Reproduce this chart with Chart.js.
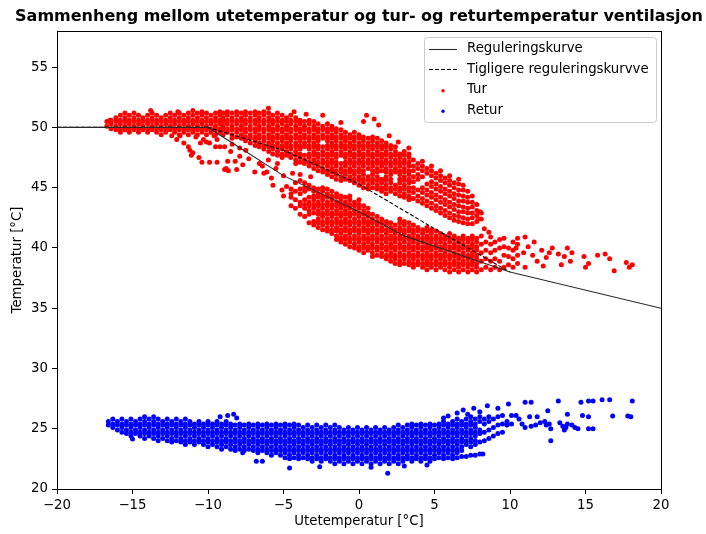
<!DOCTYPE html>
<html>
<head>
<meta charset="utf-8">
<script src="https://cdn.jsdelivr.net/npm/chart.js@4.4.1/dist/chart.umd.min.js"></script>
<style>
  html, body { margin: 0; padding: 0; background: #fff; }
  canvas { display: block; }
</style>
</head>
<body>
<canvas id="chart" width="706" height="534"></canvas>
<script>
// --- axes ---
const xTicks = [-20, -15, -10, -5, 0, 5, 10, 15, 20];
const yTicks = [20, 25, 30, 35, 40, 45, 50, 55];

// --- regulation curves (breakpoints) ---
const regX = [-20, -10, -5, 0, 3, 10, 20];
const regY = [50, 50, 46, 43, 41, 38, 35];
const oldRegX = [-20, -10, -5, 0, 5, 10];
const oldRegY = [50, 50, 48.1, 45.3, 41.6, 38];

// --- Tur (supply) readings, grouped as [x, [y, y, ...]] ---
const turFlat = [
  [-16.7,[50.1,50.5]],[-16.42,[49.9,50.3,50.6]],[-16.1,[49.8,50.1,50.5,50.8]],
  [-15.8,[49.6,49.9,50.3,50.6,51.0]],[-15.5,[49.8,50.1,50.5,50.8]],[-15.21,[49.6,49.9,50.3,50.6,51.0]],
  [-14.9,[49.8,50.1,50.5,50.8,51.2]],[-14.6,[49.6,49.9,50.3,50.6,51.0]],[-14.31,[49.8,50.1,50.5,50.8]],
  [-14.0,[49.6,49.9,50.3,50.6,51.0]],[-13.7,[49.8,50.1,50.5,50.8,51.2]],[-13.4,[49.6,49.9,50.3,50.6,51.0]],
  [-13.1,[49.4,49.8,50.1,50.5,50.8]],[-12.8,[49.6,49.9,50.3,50.6,51.0]],[-12.5,[49.8,50.1,50.5,50.8,51.2]],
  [-12.21,[49.6,49.9,50.3,50.6,51.0]],[-11.9,[49.4,49.8,50.1,50.5,50.8,51.2]],[-11.6,[49.6,49.9,50.3,50.6,51.0]],
  [-11.3,[49.4,49.8,50.1,50.5,50.8,51.2]],[-11.0,[49.6,49.9,50.3,50.6,51.0]],[-10.7,[49.4,49.8,50.1,50.5,50.8,51.2]],
  [-10.4,[49.6,49.9,50.3,50.6,51.0,51.3]],[-10.1,[49.4,49.8,50.1,50.5,50.8,51.2]],[-9.8,[49.6,49.9,50.3,50.6,51.0]],
  [-9.5,[49.4,49.8,50.1,50.5,50.8,51.2]],[-9.21,[49.6,49.9,50.3,50.6,51.0,51.3]]
];

const turUpper = [
  [-9.0,[49.4,49.8,50.1,50.5,50.8,51.2]],[-8.72,[49.6,49.9,50.3,50.6,51.0,51.3]],
  [-8.41,[49.1,49.4,49.8,50.1,50.5,50.8,51.2]],[-8.1,[49.2,49.6,49.9,50.3,50.6,51.0,51.3]],
  [-7.79,[49.1,49.4,49.8,50.1,50.5,50.8,51.2]],[-7.52,[48.9,49.2,49.6,49.9,50.3,50.6,51.0,51.3]],
  [-7.2,[48.7,49.1,49.4,49.8,50.1,50.5,50.8,51.2]],[-6.88,[48.5,48.9,49.2,49.6,49.9,50.3,50.6,51.0,51.3]],
  [-6.61,[48.4,48.7,49.1,49.4,49.8,50.1,50.5,50.8,51.2]],[-6.3,[48.2,48.5,48.9,49.2,49.6,49.9,50.3,50.6,51.0,51.3]],
  [-5.98,[48.0,48.4,48.7,49.1,49.4,49.8,50.1,50.5,50.8,51.2]],[-5.71,[47.8,48.2,48.5,48.9,49.2,49.6,49.9,50.3,50.6,51.0]],
  [-5.4,[47.7,48.0,48.4,48.7,49.1,49.4,49.8,50.1,50.5,50.8,51.2]],[-5.09,[47.5,47.8,48.2,48.5,48.9,49.2,49.6,49.9,50.3,50.6,51.0]],
  [-4.8,[47.7,48.0,48.4,48.7,49.1,49.4,49.8,50.1,50.5,50.8]],[-4.52,[47.5,47.8,48.2,48.5,48.9,49.2,49.6,49.9,50.3,50.6,51.0]],
  [-4.19,[47.0,47.3,47.7,48.0,48.4,48.7,49.1,49.4,49.8,50.1,50.5,50.8]],[-3.9,[47.1,47.5,47.8,48.2,48.5,48.9,49.2,49.6,49.9,50.3,50.6]],
  [-3.61,[47.0,47.3,47.7,48.4,48.7,49.1,49.4,49.8,50.1,50.5]],[-3.3,[46.8,47.1,47.5,47.8,48.2,48.5,48.9,49.2,49.6,49.9,50.3,50.6]],
  [-2.99,[46.6,47.0,47.3,47.7,48.0,48.4,48.7,49.1,49.4,49.8,50.1,50.5]],[-2.71,[46.4,46.8,47.1,47.5,47.8,48.2,48.5,48.9,49.2,49.6,49.9,50.3]],
  [-2.4,[46.3,46.6,47.0,47.3,47.7,48.0,48.4,49.1,49.4,49.8,50.1]],[-2.09,[46.1,46.4,46.8,47.1,47.5,47.8,48.2,48.5,48.9,49.2,49.6,49.9,50.3]],
  [-1.8,[45.9,46.3,46.6,47.0,47.3,47.7,48.0,48.4,48.7,49.1,49.4,49.8,50.1]],[-1.51,[45.7,46.1,46.4,46.8,47.1,47.5,47.8,48.2,48.5,48.9,49.2,49.6,49.9]],
  [-1.19,[45.6,45.9,46.3,46.6,47.0,47.7,48.0,48.4,48.7,49.1,49.4,49.8]],[-0.9,[45.7,46.1,46.4,46.8,47.1,47.5,47.8,48.2,48.5,48.9,49.2,49.6]],
  [-0.6,[45.6,45.9,46.3,46.6,47.0,47.3,47.7,48.0,48.4,48.7,49.1,49.4]],[-0.31,[45.4,45.7,46.1,46.4,46.8,47.1,47.5,47.8,48.2,48.5,48.9,49.2,49.6]],
  [0.0,[45.2,45.6,45.9,46.3,46.6,47.0,47.3,47.7,48.0,48.4,48.7,49.1,49.4]],[0.29,[45.0,45.4,45.7,46.1,46.4,46.8,47.1,47.5,47.8,48.2,48.5,48.9,49.2]],
  [0.61,[44.9,45.2,45.6,45.9,46.6,47.0,47.3,47.7,48.0,48.4,48.7,49.1]],[0.9,[45.0,45.4,45.7,46.1,46.4,46.8,47.1,47.5,47.8,48.2,48.5,48.9,49.2]],
  [1.21,[44.9,45.2,45.6,45.9,46.3,46.6,47.0,47.3,47.7,48.0,48.4,48.7,49.1]],[1.5,[44.7,45.0,45.4,45.7,46.4,46.8,47.1,47.5,47.8,48.2,48.5,48.9]],
  [1.79,[44.5,44.9,45.2,45.6,45.9,46.3,46.6,47.0,47.3,47.7,48.0,48.4,48.7]],[2.1,[44.7,45.0,45.4,45.7,46.1,46.4,46.8,47.1,47.5,47.8,48.2,48.5]],
  [2.41,[44.5,44.9,45.2,46.3,46.6,47.0,47.3,47.7,48.0,48.4]],[2.7,[44.3,44.7,45.0,45.4,45.7,46.1,46.4,46.8,47.1,47.5,47.8]],
  [3.0,[44.2,44.5,44.9,45.2,45.6,45.9,46.3,46.6,47.0,47.3,47.7,48.0]],[3.31,[44.0,44.3,44.7,45.0,45.4,45.7,46.1,46.4,46.8,47.1,47.5,47.8]]
];

const turExt = [
  [3.6,[44.1,44.6,45.0,45.5,45.9,46.4,46.8,47.3]],[3.9,[43.9,44.3,44.8,45.7,46.1,46.6,47.0]],
  [4.2,[43.7,44.1,44.6,45.0,45.9,46.4,46.8,47.2]],[4.5,[43.5,43.9,44.4,44.8,45.3,46.2,46.6]],
  [4.8,[43.3,43.7,44.2,44.6,45.1,45.5,46.0,46.4,46.8]],[5.1,[43.1,43.5,44.0,44.4,44.9,45.3,45.8,46.2]],
  [5.4,[42.9,43.3,43.8,44.2,44.7,45.1,45.6,46.0,46.4]],[5.7,[42.7,43.1,43.6,44.0,44.5,44.9,45.4,45.8]],
  [6.0,[42.5,42.9,43.4,43.8,44.3,44.7,45.2,45.6,46.0]],[6.3,[42.3,42.7,43.2,43.6,44.1,44.5,45.0,45.4]],
  [6.6,[42.2,42.6,43.0,43.5,43.9,44.4,44.8,45.3,45.7]],[6.9,[42.1,42.5,43.0,43.4,43.9,44.3,44.8,45.2]],
  [7.2,[42.0,42.4,42.9,43.3,43.8,44.2,44.7]],[7.5,[42.0,42.5,42.9,43.4,43.8,44.3]],
  [7.8,[42.2,42.7,43.1,43.6]],[8.1,[42.4,42.9]]
];

const turLower = [
  [-4.5,[43.5,44.2,44.9]],[-4.21,[43.3,44.0,44.7,45.4]],[-3.9,[42.8,43.5,43.8,44.5,44.9,45.6]],
  [-3.6,[42.6,43.3,43.6,44.0,44.7,45.0,45.4]],[-3.31,[42.1,42.8,43.1,43.5,43.8,44.2,44.9,45.2]],
  [-3.0,[41.9,42.2,42.9,43.3,43.6,44.0,44.3,44.7,45.0]],[-2.7,[41.7,42.1,42.4,42.8,43.1,43.5,43.8,44.2,44.5,44.9]],
  [-2.41,[41.5,41.9,42.2,42.6,42.9,43.3,43.6,44.0,44.3,44.7,45.0]],[-2.1,[41.4,41.7,42.1,42.4,42.8,43.1,43.5,43.8,44.2,44.5,44.9]],
  [-1.8,[41.2,41.5,41.9,42.2,42.6,42.9,43.3,43.6,44.0,44.3,44.7]],[-1.49,[40.7,41.0,41.4,41.7,42.1,42.4,42.8,43.1,43.5,43.8,44.2,44.5]],
  [-1.2,[40.5,40.8,41.2,41.5,41.9,42.2,42.6,42.9,43.3,43.6,44.0,44.3]],[-0.9,[40.3,40.7,41.0,41.4,41.7,42.1,42.4,42.8,43.1,43.5,43.8,44.2]],
  [-0.61,[40.1,40.5,40.8,41.2,41.5,41.9,42.2,42.6,42.9,43.3,43.6,44.0,44.3]],[-0.3,[40.0,40.3,40.7,41.0,41.4,41.7,42.1,42.4,42.8,43.1,43.5,43.8]],
  [0.0,[39.8,40.1,40.5,40.8,41.2,41.5,41.9,42.2,42.6,42.9,43.3,43.6,44.0]],[0.31,[39.6,40.0,40.3,40.7,41.0,41.4,41.7,42.1,42.4,42.8,43.1,43.5]],
  [0.6,[39.8,40.1,40.5,40.8,41.2,41.5,41.9,42.2,42.6,42.9,43.3]],[0.89,[39.3,39.6,40.0,40.3,40.7,41.0,41.4,41.7,42.1,42.4,42.8]],
  [1.2,[39.4,39.8,40.1,40.5,40.8,41.2,41.5,41.9,42.2,42.6]],[1.5,[39.3,39.6,40.0,40.3,40.7,41.0,41.4,41.7,42.1,42.4]],
  [1.81,[39.1,39.4,39.8,40.1,40.5,40.8,41.2,41.5,41.9,42.2]],[2.1,[38.9,39.3,39.6,40.0,40.3,40.7,41.0,41.4,41.7,42.1]],
  [2.39,[38.7,39.1,39.4,39.8,40.1,40.5,40.8,41.2,41.5,41.9]],[2.7,[38.6,38.9,39.3,39.6,40.0,40.3,40.7,41.0,41.4,41.7,42.1,42.4]],
  [3.0,[38.7,39.1,39.4,39.8,40.1,40.5,40.8,41.2,41.5,41.9,42.2]],[3.31,[38.6,38.9,39.3,39.6,40.0,40.3,40.7,41.0,41.4,41.7,42.1]],
  [3.6,[38.4,38.7,39.1,39.4,39.8,40.1,40.5,40.8,41.2,41.5,41.9]],[3.9,[38.6,38.9,39.3,39.6,40.0,40.3,40.7,41.0,41.4,41.7]],
  [4.21,[38.4,38.7,39.1,39.4,39.8,40.1,40.5,40.8,41.2,41.5]],[4.5,[38.2,38.6,38.9,39.3,39.6,40.0,40.3,40.7,41.0,41.4,41.7]],
  [4.79,[38.4,38.7,39.1,39.4,39.8,40.1,40.5,40.8,41.2,41.5]],[5.1,[38.2,38.6,38.9,39.3,39.6,40.0,40.3,40.7,41.0,41.4]],
  [5.4,[38.4,38.7,39.1,39.4,39.8,40.1,40.5,40.8,41.2]],[5.69,[38.2,38.6,38.9,39.3,39.6,40.0,40.3,40.7,41.0]],
  [6.0,[38.0,38.4,38.7,39.1,39.4,39.8,40.1,40.5,40.8,41.2]],[6.31,[38.2,38.6,38.9,39.3,39.6,40.0,40.3,40.7,41.0]],
  [6.6,[38.0,38.4,38.7,39.1,39.4,39.8,40.1,40.5,40.8]],[6.9,[38.2,38.6,38.9,39.3,39.6,40.0,40.3,40.7,41.0]],
  [7.21,[38.0,38.4,38.7,39.1,39.4,39.8,40.1,40.5,40.8]],[7.5,[38.2,38.6,38.9,39.3,39.6,40.0,40.3,40.7,41.0]],
  [7.79,[38.0,38.4,38.7,39.1,39.4,39.8,40.1,40.5,40.8]],[8.1,[38.2,38.9,39.6,40.3,41.0]],
  [8.4,[38.4,39.1,39.8,40.5]],[8.72,[38.2,38.9,39.6,40.3,40.9]],[9.0,[38.4,39.1,39.8,40.5]],
  [9.31,[38.2,38.9,40.0,40.7]],[9.6,[38.4,39.4,40.1,40.8]],[9.9,[38.6,39.3,40.0]],
  [10.2,[38.4,39.1,39.8,40.5]],[10.5,[38.7,39.4,40.3]]
];

// loose Tur points [x, y]
const turScatter = [
  [-12.4,49.3],[-12.07,49.0],[-11.6,48.7],[-11.85,49.3],[-11.3,48.4],[-11.2,48.1],[-11.1,47.7],[-11.0,47.9],
  [-10.8,49.2],[-10.5,48.7],[-10.3,49.0],[-10.1,48.8],[-9.9,48.7],[-9.6,49.3],[-9.4,49.0],[-9.5,48.4],
  [-9.2,48.4],[-8.9,48.4],[-10.6,47.5],[-10.4,47.1],[-9.9,47.1],[-9.4,47.1],[-8.7,47.2],[-8.9,46.5],
  [-8.65,46.4],[-8.8,46.6],[-8.2,47.2],[-8.1,46.5],[-8.5,48.0],[-7.9,47.6],[-7.7,46.9],[-7.5,48.1],
  [-7.3,47.4],[-6.9,46.3],[-6.6,47.0],[-6.4,46.8],[-6.3,46.2],[-6.1,46.3],[-5.8,45.8],[-5.7,45.2],
  [-5.1,44.8],[-5.0,44.3],[-4.8,45.1],[-4.5,44.5],[-5.5,46.6],[-5.0,46.0],[-4.4,46.2],[-3.9,46.1],
  [-3.2,45.9],[-8.4,48.6],[-7.9,48.3],[-6.0,47.3],[-5.4,47.0],
  [-13.8,51.4],[-15.5,51.2],[-12.0,51.3],[-11.0,51.4],[-6.0,51.6],[-4.3,51.3],[-3.5,51.1],[-2.4,51.0],
  [-1.2,50.4],[0.3,50.5],[0.5,51.0],[1.0,50.7],[1.3,50.2],[2.0,49.3],[3.3,48.3],[2.6,48.8],[-16.5,50.6],
  [8.0,43.0],[7.9,42.4],[8.3,41.6],[8.6,41.3]
];

const turTail = [
  [10.5,40.8],[10.4,40.0],[10.9,39.6],[11.2,40.1],[11.5,39.4],[11.8,38.9],[12.1,39.8],[12.4,39.2],
  [12.8,40.0],[13.2,39.5],[13.6,39.3],[13.8,40.0],[14.1,39.6],[14.0,38.9],[14.9,39.3],[15.2,38.7],
  [15.0,38.4],[15.8,39.4],[16.3,39.5],[16.6,39.1],[16.9,38.1],[17.7,38.8],[17.9,38.4],[18.1,38.6],
  [12.2,38.5],[11.0,38.4],[13.4,38.6],[11.6,40.5],[11.0,40.9],[12.6,39.6]
];

// --- Retur (return) readings ---
const returBand = [
  [-16.6,[25.3,25.6]],[-16.3,[25.1,25.4,25.8]],[-16.0,[24.9,25.3,25.6]],[-15.7,[24.7,25.1,25.4,25.8]],
  [-15.4,[24.6,24.9,25.3,25.6]],[-15.1,[24.4,24.7,25.1,25.4,25.8]],[-14.8,[24.6,24.9,25.3,25.6]],
  [-14.5,[24.4,24.7,25.1,25.4,25.8]],[-14.2,[24.2,24.6,24.9,25.3,25.6,26.0]],[-13.9,[24.4,24.7,25.1,25.4,25.8]],
  [-13.6,[24.2,24.6,24.9,25.3,25.6,26.0]],[-13.3,[24.0,24.4,24.7,25.1,25.4,25.8]],[-13.0,[24.2,24.6,24.9,25.3,25.6]],
  [-12.7,[24.0,24.4,24.7,25.1,25.4,25.8]],[-12.4,[23.9,24.2,24.6,24.9,25.3,25.6]],[-12.1,[24.0,24.4,24.7,25.1,25.4,25.8]],
  [-11.8,[23.9,24.2,24.6,24.9,25.3,25.6]],[-11.5,[23.7,24.0,24.4,24.7,25.1,25.4,25.8]],[-11.2,[23.9,24.2,24.6,24.9,25.3,25.6]],
  [-10.9,[23.7,24.0,24.4,24.7,25.1,25.4]],[-10.6,[23.9,24.2,24.6,24.9,25.3,25.6]],[-10.3,[23.7,24.0,24.4,24.7,25.1,25.4]],
  [-10.0,[23.5,23.9,24.2,24.6,24.9,25.3,25.6]],[-9.7,[23.7,24.0,24.4,24.7,25.1,25.4]],[-9.4,[23.5,23.9,24.2,24.6,24.9,25.3,25.6]],
  [-9.1,[23.3,23.7,24.0,24.4,24.7,25.1,25.4]],[-8.8,[23.5,23.9,24.2,24.6,24.9,25.3,25.6]],[-8.5,[23.3,23.7,24.0,24.4,24.7,25.1,25.4]],
  [-8.2,[23.2,23.5,23.9,24.2,24.6,24.9,25.3]],[-7.9,[23.3,23.7,24.0,24.4,24.7,25.1,25.4]],[-7.6,[23.2,23.5,23.9,24.2,24.6,24.9,25.3]],
  [-7.3,[23.3,23.7,24.0,24.4,24.7,25.1,25.4]],[-7.0,[23.2,23.5,23.9,24.2,24.6,24.9,25.3]],[-6.7,[23.0,23.3,23.7,24.0,24.4,24.7,25.1,25.4]],
  [-6.4,[23.2,23.5,23.9,24.2,24.6,24.9,25.3]],[-6.1,[23.0,23.3,23.7,24.0,24.4,24.7,25.1,25.4]],[-5.8,[22.8,23.2,23.5,23.9,24.2,24.6,24.9,25.3]],
  [-5.5,[23.0,23.3,23.7,24.0,24.4,24.7,25.1,25.4]],[-5.2,[22.8,23.2,23.5,23.9,24.2,24.6,24.9,25.3]],[-4.9,[22.6,23.0,23.3,23.7,24.0,24.4,24.7,25.1,25.4]],
  [-4.6,[22.5,22.8,23.2,23.5,23.9,24.2,24.6,24.9,25.3]],[-4.3,[22.6,23.0,23.3,23.7,24.0,24.4,24.7,25.1,25.4]],[-4.0,[22.5,22.8,23.2,23.5,23.9,24.2,24.6,24.9,25.3]],
  [-3.7,[22.6,23.0,23.3,23.7,24.0,24.4,24.7,25.1]],[-3.4,[22.5,22.8,23.2,23.5,23.9,24.2,24.6,24.9,25.3]],[-3.1,[22.3,22.6,23.0,23.3,23.7,24.0,24.4,24.7,25.1]],
  [-2.8,[22.5,22.8,23.2,23.5,23.9,24.2,24.6,24.9,25.3]],[-2.5,[22.3,22.6,23.0,23.3,23.7,24.0,24.4,24.7,25.1]],[-2.2,[22.5,22.8,23.2,23.5,23.9,24.2,24.6,24.9,25.3]],
  [-1.9,[22.3,22.6,23.0,23.3,23.7,24.0,24.4,24.7,25.1]],[-1.6,[22.1,22.5,22.8,23.2,23.5,23.9,24.2,24.6,24.9,25.3]],[-1.3,[22.3,22.6,23.0,23.3,23.7,24.0,24.4,24.7,25.1]],
  [-1.0,[22.1,22.5,22.8,23.2,23.5,23.9,24.2,24.6,24.9]],[-0.7,[22.3,22.6,23.0,23.3,23.7,24.0,24.4,24.7,25.1]],[-0.4,[22.1,22.5,22.8,23.2,23.5,23.9,24.2,24.6,24.9]],
  [-0.1,[22.3,22.6,23.0,23.3,23.7,24.0,24.4,24.7,25.1]],[0.2,[22.1,22.5,22.8,23.2,23.5,23.9,24.2,24.6,24.9]],[0.5,[22.3,22.6,23.0,23.3,23.7,24.0,24.4,24.7,25.1]],
  [0.8,[22.1,22.5,22.8,23.2,23.5,23.9,24.2,24.6,24.9]],[1.1,[22.3,22.6,23.0,23.3,23.7,24.0,24.4,24.7,25.1]],[1.4,[22.1,22.5,22.8,23.2,23.5,23.9,24.2,24.6,24.9]],
  [1.7,[22.3,22.6,23.0,23.3,23.7,24.0,24.4,24.7,25.1]],[2.0,[22.1,22.5,22.8,23.2,23.5,23.9,24.2,24.6,24.9]],[2.3,[22.3,22.6,23.0,23.3,23.7,24.0,24.4,24.7,25.1]],
  [2.6,[22.1,22.5,22.8,23.2,23.5,23.9,24.2,24.6,24.9,25.3]],[2.9,[22.3,22.6,23.0,23.3,23.7,24.0,24.4,24.7,25.1]],[3.2,[22.5,22.8,23.2,23.5,23.9,24.2,24.6,24.9,25.3]],
  [3.5,[22.3,22.6,23.0,23.3,23.7,24.0,24.4,24.7,25.1,25.4]],[3.8,[22.5,22.8,23.2,23.5,23.9,24.2,24.6,24.9,25.3]],[4.1,[22.3,22.6,23.0,23.3,23.7,24.0,24.4,24.7,25.1,25.4]],
  [4.4,[22.5,22.8,23.2,23.5,23.9,24.2,24.6,24.9,25.3]],[4.7,[22.3,22.6,23.0,23.3,23.7,24.0,24.4,24.7,25.1,25.4]],[5.0,[22.5,22.8,23.2,23.5,23.9,24.2,24.6,24.9,25.3]],
  [5.3,[22.6,23.0,23.3,23.7,24.0,24.4,24.7,25.1,25.4]],[5.6,[22.5,22.8,23.2,23.5,23.9,24.2,24.6,24.9,25.3,25.6]],[5.9,[22.6,23.0,23.3,23.7,24.0,24.4,24.7,25.1,25.4]],
  [6.2,[22.8,23.2,23.5,23.9,24.2,24.6,24.9,25.3,25.6]],[6.5,[23.0,23.3,23.7,24.0,24.4,24.7,25.1,25.4,25.8]],[6.8,[23.2,23.5,23.9,24.2,24.6,24.9,25.3,25.6]],
  [7.1,[23.7,24.0,24.4,24.7,25.1,25.4,25.8]],[7.4,[23.5,23.9,24.2,24.6,24.9,25.3,25.6,26.0]],[7.7,[23.7,24.0,24.4,24.7,25.1,25.4,25.8]],
  [8.0,[23.9,24.6,24.9,25.6,26.0]],[8.3,[24.0,24.7,25.4,25.8]],[8.6,[24.2,24.9,25.6,26.0]],[8.9,[24.4,25.1,25.8]],
  [9.2,[24.6,25.3,26.0]],[9.5,[24.7,25.4,26.1]],[9.8,[25.3,25.6]],[10.1,[25.4,26.1]]
];

const returScatter = [
  [6.2,22.5],[6.5,22.6],[6.8,22.7],[7.1,22.7],[7.4,22.8],[7.7,22.8],[8.0,22.9],[8.2,22.9],
  [-4.6,21.75],[1.9,21.3],[-6.8,22.3],[-6.4,22.3],[-2.6,21.85],[-7.7,23.0],[-15.0,24.15],
  [-8.7,26.1],[-8.3,26.2],[-8.1,25.9],[-9.2,26.0],[0.8,21.8],[3.0,21.9],[4.5,22.0]
];

const returTail = [
  [8.5,26.9],[9.9,27.05],[11.0,27.2],[11.4,27.2],[13.2,27.3],[14.7,27.2],[15.2,27.3],[15.5,27.3],
  [16.1,27.4],[16.6,27.4],[18.1,27.3],[16.8,26.05],[17.8,26.05],[18.0,26.0],[14.8,26.1],[15.2,26.0],
  [14.5,25.0],[15.2,25.0],[15.5,25.0],[13.8,26.2],[13.3,25.5],[13.5,25.2],[13.6,24.9],[13.8,25.4],
  [13.7,25.1],[12.5,26.5],[11.8,26.0],[12.0,25.5],[12.3,25.6],[12.6,25.4],[12.7,25.0],[12.4,25.3],
  [12.7,24.0],[11.3,26.0],[11.0,25.1],[11.4,25.2],[11.7,25.3],[10.6,25.8],[10.4,26.1],[10.8,25.4],
  [14.1,25.3],[14.3,25.1],[5.6,25.9],[5.9,26.05],[6.5,26.3],[6.9,26.55],[7.6,26.7],[8.0,26.4],
  [9.2,26.7],[7.2,26.2]
];

const titleText = 'Sammenheng mellom utetemperatur og tur- og returtemperatur ventilasjon';

// helpers to turn the lists into {x, y}
const fromCols = cols => cols.flatMap(([x, ys]) => ys.map(y => ({ x, y })));
const fromPairs = pairs => pairs.map(([x, y]) => ({ x, y }));
const zip = (xs, ys) => xs.map((x, i) => ({ x, y: ys[i] }));

const turData = [].concat(fromCols(turFlat), fromCols(turUpper), fromCols(turExt),
  fromCols(turLower), fromPairs(turScatter), fromPairs(turTail));
const returData = [].concat(fromCols(returBand), fromPairs(returScatter), fromPairs(returTail));

const FONT = "'DejaVu Sans', sans-serif";
Chart.defaults.font.family = FONT;
Chart.defaults.color = '#000';

const minus = v => (v < 0 ? '\u2212' + Math.abs(v) : String(v));

// title, box frame and legend drawn matplotlib-style
const decor = {
  id: 'decor',
  afterDraw(chart) {
    const { ctx, chartArea: a } = chart;
    ctx.save();
    // full frame, on the same pixels as the axis borders
    ctx.strokeStyle = '#000';
    ctx.lineWidth = 1;
    const l = Math.round(a.left) + 0.5, t = Math.round(a.top) + 0.5;
    const r = Math.round(a.right) + 0.5, b = Math.round(a.bottom) + 0.5;
    ctx.strokeRect(l, t, r - l, b - t);

    // title centered over the axes
    ctx.fillStyle = '#000';
    ctx.font = 'bold 16px ' + FONT;
    ctx.textAlign = 'center';
    ctx.textBaseline = 'middle';
    ctx.fillText(titleText, (a.left + a.right) / 2, 17);

    // legend box
    const bx = a.right - 237, by = a.top + 6, bw = 232, bh = 85;
    ctx.beginPath();
    ctx.roundRect(bx + 0.5, by + 0.5, bw, bh, 3);
    ctx.fillStyle = 'rgba(255,255,255,0.8)';
    ctx.fill();
    ctx.strokeStyle = '#cccccc';
    ctx.stroke();

    ctx.font = '13.3px ' + FONT;
    ctx.textAlign = 'left';
    chart.data.datasets.forEach((ds, i) => {
      const y = by + 12 + i * 20.4;
      if (ds.showLine) {
        ctx.beginPath();
        ctx.strokeStyle = ds.borderColor;
        ctx.lineWidth = ds.borderWidth;
        ctx.setLineDash(ds.borderDash || []);
        ctx.moveTo(bx + 5, Math.round(y) + 0.5);
        ctx.lineTo(bx + 33, Math.round(y) + 0.5);
        ctx.stroke();
        ctx.setLineDash([]);
      } else {
        ctx.beginPath();
        ctx.fillStyle = ds.pointBackgroundColor;
        ctx.arc(bx + 19, y + 1, 1.7, 0, Math.PI * 2);
        ctx.fill();
      }
      ctx.fillStyle = '#000';
      ctx.fillText(ds.label, bx + 43, y);
    });
    ctx.restore();
  }
};

new Chart(document.getElementById('chart'), {
  type: 'scatter',
  data: {
    datasets: [
      {
        label: 'Reguleringskurve',
        data: zip(regX, regY),
        showLine: true,
        borderColor: '#2a2a2a',
        borderWidth: 1.1,
        pointRadius: 0,
        tension: 0
      },
      {
        label: 'Tigligere reguleringskurvve',
        data: zip(oldRegX, oldRegY),
        showLine: true,
        borderColor: '#000000',
        borderWidth: 1.1,
        borderDash: [4, 2],
        pointRadius: 0,
        tension: 0
      },
      {
        label: 'Tur',
        data: turData,
        pointRadius: 2.5,
        pointBorderWidth: 0,
        pointBackgroundColor: '#ff0000',
        borderColor: '#ff0000'
      },
      {
        label: 'Retur',
        data: returData,
        pointRadius: 2.5,
        pointBorderWidth: 0,
        pointBackgroundColor: '#0000ff',
        borderColor: '#0000ff'
      }
    ]
  },
  options: {
    responsive: false,
    animation: false,
    events: [],
    layout: { padding: { top: 31, right: 45, bottom: 0, left: 0 } },
    plugins: {
      legend: { display: false },
      tooltip: { enabled: false },
      title: { display: false }
    },
    scales: {
      x: {
        type: 'linear',
        min: -20,
        max: 20,
        afterBuildTicks: s => { s.ticks = xTicks.map(v => ({ value: v })); },
        afterFit: s => { s.height = 45; },
        ticks: { callback: minus, padding: 4, font: { size: 13.3 }, maxRotation: 0 },
        grid: { drawOnChartArea: false, drawTicks: true, tickLength: 5, color: '#000' },
        border: { display: true, color: '#000', width: 1 },
        title: { display: true, text: 'Utetemperatur [°C]', font: { size: 13.3 }, padding: { top: 0, bottom: 4 } }
      },
      y: {
        type: 'linear',
        min: 20,
        max: 58,
        afterBuildTicks: s => { s.ticks = yTicks.map(v => ({ value: v })); },
        afterFit: s => { s.width = 57; },
        ticks: { callback: minus, padding: 4, font: { size: 13.3 } },
        grid: { drawOnChartArea: false, drawTicks: true, tickLength: 5, color: '#000' },
        border: { display: true, color: '#000', width: 1 },
        title: { display: true, text: 'Temperatur [°C]', font: { size: 13.3 }, padding: { top: 10, bottom: 0 } }
      }
    }
  },
  plugins: [decor]
});
</script>
</body>
</html>
